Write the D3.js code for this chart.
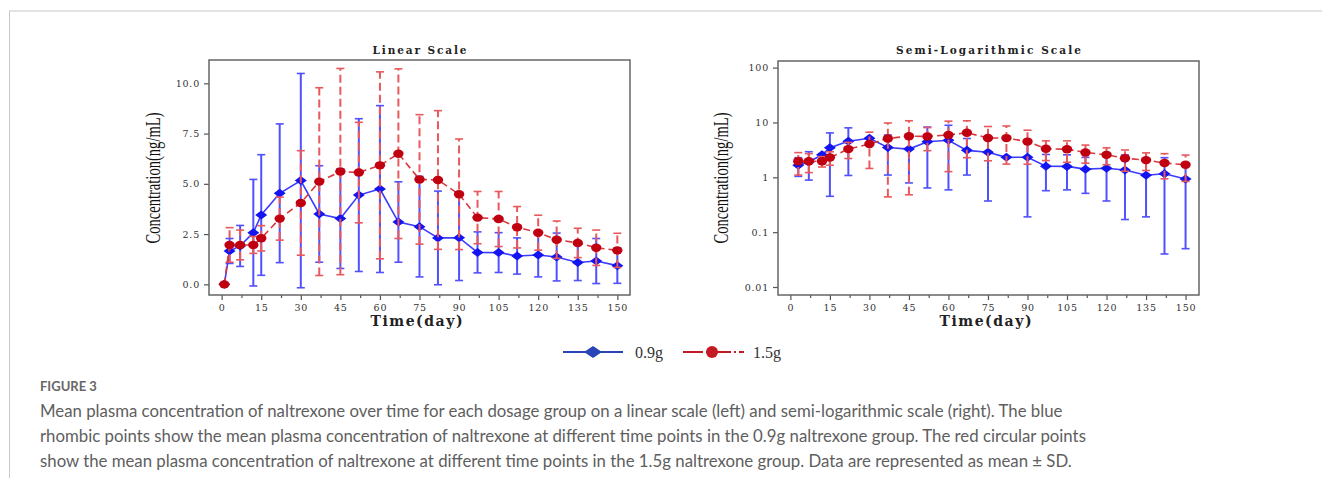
<!DOCTYPE html>
<html>
<head>
<meta charset="utf-8">
<script src="https://cdn.jsdelivr.net/npm/d3@7"></script>
<style>
  body { margin: 0; background: #fff; }
  svg { display: block; }
</style>
</head>
<body>
<svg id="fig" width="1322" height="490"></svg>
<script>
// sampling days (day 1 = predose)
const days = [1, 3, 7, 12, 15, 22, 30, 37, 45, 52, 60, 67, 75, 82, 90, 97, 105, 112, 120, 127, 135, 142, 150];

// 0.9g group, mean and SD (ng/mL)
const mean09 = [0, 1.66, 1.91, 2.57, 3.45, 4.53, 5.16, 3.50, 3.27, 4.44, 4.74, 3.10, 2.87, 2.31, 2.32, 1.59, 1.58, 1.41, 1.46, 1.36, 1.09, 1.16, 0.93];
const sd09 = [0, 0.62, 1.02, 2.65, 3.00, 3.45, 5.33, 2.40, 2.48, 3.80, 4.15, 2.00, 2.50, 2.33, 2.13, 1.02, 0.99, 0.90, 1.09, 1.19, 0.90, 1.12, 0.88];

// 1.5g group, mean and SD (ng/mL)
const mean15 = [0, 1.96, 1.96, 1.96, 2.29, 3.27, 4.05, 5.11, 5.61, 5.56, 5.92, 6.50, 5.22, 5.19, 4.48, 3.32, 3.25, 2.84, 2.57, 2.22, 2.06, 1.82, 1.69];
const sd15 = [0, 0.86, 0.74, 0.42, 0.63, 1.07, 2.60, 4.67, 5.13, 2.50, 4.65, 4.22, 3.22, 3.45, 2.75, 1.30, 1.37, 1.03, 0.87, 0.93, 0.73, 0.88, 0.85];

const groups = ['0.9g', '1.5g'];
const xTicks = [0, 15, 30, 45, 60, 75, 90, 105, 120, 135, 150];
const xMinorTicks = [7.5, 22.5, 37.5, 52.5, 67.5, 82.5, 97.5, 112.5, 127.5, 142.5];
const linTicks = [0, 2.5, 5, 7.5, 10];
const logTicks = [0.01, 0.1, 1, 10, 100];

const series = [
    {name: groups[0], mean: mean09, sd: sd09, marker: 'diamond',
     line: '#3b3bff', bar: '#5050ff', fill: '#1414f0', dash: null, barDash: null},
    {name: groups[1], mean: mean15, sd: sd15, marker: 'circle',
     line: '#d8393f', bar: '#e8585c', fill: '#c00010', dash: '7,4', barDash: '8,4'},
];
series.forEach(s => {
    s.points = days.map((d, i) => ({day: d, mean: s.mean[i], sd: s.sd[i]}));
});

const svg = d3.select('#fig');
const serif = '"Liberation Serif", "DejaVu Serif", serif';
const wide = '"DejaVu Serif", serif';

// page frame lines
svg.append('line').attr('x1', 9).attr('x2', 1322).attr('y1', 11).attr('y2', 11)
    .attr('stroke', '#c8c8c8').attr('stroke-width', 1);
svg.append('line').attr('x1', 9.5).attr('x2', 9.5).attr('y1', 11).attr('y2', 478)
    .attr('stroke', '#c8c8c8').attr('stroke-width', 1);

const drawPanel = (opt) => {
    const g = svg.append('g');
    const x = opt.x, y = opt.y;
    const [x0, x1] = x.range();
    const [y0, y1] = y.range();

    // title
    g.append('text')
        .attr('x', (x0 + x1) / 2).attr('y', 54)
        .attr('text-anchor', 'middle')
        .attr('font-family', wide).attr('font-weight', 'bold').attr('font-size', 10.5)
        .attr('textLength', opt.titleLen).attr('lengthAdjust', 'spacing')
        .attr('fill', '#222')
        .text(opt.title);

    // x axis
    const xAxis = g.append('g').attr('transform', 'translate(0,' + y0 + ')')
        .call(d3.axisBottom(x).tickValues(xTicks).tickSize(5).tickPadding(4).tickFormat(d3.format('d')));
    g.append('g').attr('transform', 'translate(0,' + y0 + ')')
        .call(d3.axisBottom(x).tickValues(xMinorTicks).tickSize(3).tickFormat(''))
        .select('.domain').remove();
    xAxis.select('.domain').remove();

    // y axis
    const yAxis = g.append('g').attr('transform', 'translate(' + x0 + ',0)')
        .call(d3.axisLeft(y).tickValues(opt.yTicks).tickSize(5).tickPadding(4).tickFormat(opt.yFormat));
    yAxis.select('.domain').remove();

    g.selectAll('.tick line').attr('stroke', '#555').attr('stroke-width', 1.2);
    g.selectAll('.tick text')
        .attr('font-family', wide).attr('font-size', 9.5)
        .attr('letter-spacing', '0.8px').attr('fill', '#333');

    // frame
    g.append('rect')
        .attr('x', x0).attr('y', y1).attr('width', x1 - x0).attr('height', y0 - y1)
        .attr('fill', 'none').attr('stroke', '#666').attr('stroke-width', 1.5);

    // axis titles
    g.append('text')
        .attr('x', (x0 + x1) / 2 - 3).attr('y', 326)
        .attr('text-anchor', 'middle')
        .attr('font-family', wide).attr('font-weight', 'bold').attr('font-size', 14)
        .attr('textLength', 92).attr('lengthAdjust', 'spacing')
        .attr('fill', '#222')
        .text('Time(day)');

    g.append('text')
        .attr('transform', 'translate(' + opt.yTitleX + ',178) rotate(-90)')
        .attr('text-anchor', 'middle')
        .attr('font-family', serif).attr('font-size', 20)
        .attr('textLength', 131).attr('lengthAdjust', 'spacingAndGlyphs')
        .attr('fill', '#111')
        .text('Concentration(ng/mL)');

    const ok = opt.ok;

    series.forEach(s => {
        const pts = s.points.filter(p => ok(p.mean));
        const bars = pts.filter(p => p.sd > 0 && ok(p.mean - p.sd));
        const sg = g.append('g');

        // error bars
        const eb = sg.selectAll('.eb').data(bars).enter().append('g');
        eb.append('line')
            .attr('x1', d => x(d.day)).attr('x2', d => x(d.day))
            .attr('y1', d => y(d.mean - d.sd)).attr('y2', d => y(d.mean + d.sd))
            .attr('stroke', s.bar).attr('stroke-width', 2)
            .attr('stroke-dasharray', s.barDash);
        [-1, 1].forEach(k => {
            eb.append('line')
                .attr('x1', d => x(d.day) - 4).attr('x2', d => x(d.day) + 4)
                .attr('y1', d => y(d.mean + k * d.sd)).attr('y2', d => y(d.mean + k * d.sd))
                .attr('stroke', s.bar).attr('stroke-width', 1.6);
        });

        // mean line
        sg.append('path')
            .datum(pts)
            .attr('d', d3.line().x(d => x(d.day)).y(d => y(d.mean)))
            .attr('fill', 'none').attr('stroke', s.line).attr('stroke-width', 1.6)
            .attr('stroke-dasharray', s.dash);

        // markers
        if (s.marker === 'diamond') {
            sg.selectAll('.mk').data(pts).enter().append('path')
                .attr('d', 'M-6,0L0,-4.5L6,0L0,4.5Z')
                .attr('transform', d => 'translate(' + x(d.day) + ',' + y(d.mean) + ')')
                .attr('fill', s.fill);
        } else {
            sg.selectAll('.mk').data(pts).enter().append('ellipse')
                .attr('cx', d => x(d.day)).attr('cy', d => y(d.mean))
                .attr('rx', 5.2).attr('ry', 4.2)
                .attr('fill', s.fill);
        }
    });
};

drawPanel({
    title: 'Linear Scale', titleLen: 94,
    x: d3.scaleLinear().domain([-4.8, 154.8]).range([209, 630]),
    y: d3.scaleLinear().domain([-0.53, 11.16]).range([295, 60]),
    yTicks: linTicks, yFormat: d3.format('.1f'),
    yTitleX: 160,
    ok: v => true,
});

drawPanel({
    title: 'Semi-Logarithmic Scale', titleLen: 185,
    x: d3.scaleLinear().domain([-4.7, 155.1]).range([778, 1199]),
    y: d3.scaleLog().domain([0.00715, 132]).range([295, 61]),
    yTicks: logTicks, yFormat: d3.format('~g'),
    yTitleX: 728,
    ok: v => v > 0,
});

// legend
const leg = svg.append('g').attr('transform', 'translate(0,352)');
const legItems = [
    {x1: 563, x2: 623, cx: 593, tx: 635, color: '#2a45b8', dash: null, marker: 'diamond'},
    {x1: 683, x2: 744, cx: 712, tx: 753, color: '#c41a24', dash: '20,3,2,3', marker: 'circle'},
];
legItems.forEach((l, i) => {
    leg.append('line').attr('x1', l.x1).attr('x2', l.x2)
        .attr('stroke', l.color).attr('stroke-width', 1.8).attr('stroke-dasharray', l.dash);
    if (l.marker === 'diamond') {
        leg.append('path').attr('d', 'M-9,0L0,-6L9,0L0,6Z')
            .attr('transform', 'translate(' + l.cx + ',0)').attr('fill', l.color);
    } else {
        leg.append('circle').attr('cx', l.cx).attr('r', 6).attr('fill', l.color);
    }
    leg.append('text').attr('x', l.tx).attr('y', 6)
        .attr('font-family', serif).attr('font-size', 16).attr('fill', '#333')
        .text(groups[i]);
});

// caption
const caption = [
    'Mean plasma concentration of naltrexone over time for each dosage group on a linear scale (left) and semi-logarithmic scale (right). The blue',
    'rhombic points show the mean plasma concentration of naltrexone at different time points in the 0.9g naltrexone group. The red circular points',
    'show the mean plasma concentration of naltrexone at different time points in the 1.5g naltrexone group. Data are represented as mean \u00B1 SD.',
];
svg.append('text').attr('x', 40).attr('y', 391)
    .attr('font-family', 'Lato, "Open Sans", sans-serif').attr('font-weight', 'bold')
    .attr('font-size', 13).attr('fill', '#666')
    .text('FIGURE 3');
svg.selectAll('.cap').data(caption).enter().append('text')
    .attr('x', 40).attr('y', (d, i) => 417 + i * 25)
    .attr('font-family', 'Lato, "Open Sans", sans-serif')
    .attr('font-size', 16.8).attr('fill', '#5e5e5e')
    .text(d => d);
</script>
</body>
</html>
